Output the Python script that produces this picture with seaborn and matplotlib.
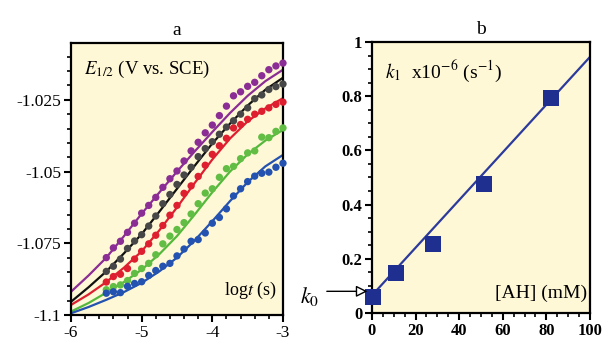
import numpy as np
import pandas as pd
import matplotlib
matplotlib.use("Agg")
import matplotlib.pyplot as plt
from matplotlib.ticker import MultipleLocator
import seaborn as sns

# --- panel a: E1/2 vs log t, five runs (points + fitted curves) ---
log_t = [-5.5, -5.4, -5.3, -5.2, -5.1, -5.0, -4.9, -4.8, -4.7, -4.6, -4.5, -4.4, -4.3,
         -4.2, -4.1, -4.0, -3.9, -3.8, -3.7, -3.6, -3.5, -3.4, -3.3, -3.2, -3.1, -3.0]
e_purple = [-1.0800, -1.0766, -1.0743, -1.0712, -1.0680, -1.0645, -1.0618, -1.0590, -1.0555,
            -1.0525, -1.0498, -1.0463, -1.0428, -1.0398, -1.0365, -1.0338, -1.0305, -1.0272,
            -1.0236, -1.0222, -1.0203, -1.0189, -1.0166, -1.0145, -1.0132, -1.0122]
e_black = [-1.0848, -1.0830, -1.0805, -1.0768, -1.0742, -1.0720, -1.0690, -1.0655, -1.0612,
           -1.0580, -1.0545, -1.0512, -1.0485, -1.0448, -1.0420, -1.0396, -1.0370, -1.0345,
           -1.0323, -1.0300, -1.0278, -1.0246, -1.0233, -1.0214, -1.0204, -1.0195]
e_red = [-1.0885, -1.0866, -1.0858, -1.0838, -1.0805, -1.0778, -1.0752, -1.0722, -1.0688,
         -1.0652, -1.0618, -1.0576, -1.0550, -1.0517, -1.0478, -1.0440, -1.0410, -1.0384,
         -1.0348, -1.0336, -1.0318, -1.0300, -1.0290, -1.0278, -1.0266, -1.0258]
e_green = [-1.0912, -1.0901, -1.0895, -1.0880, -1.0855, -1.0838, -1.0820, -1.0790, -1.0752,
           -1.0725, -1.0702, -1.0678, -1.0648, -1.0612, -1.0575, -1.0560, -1.0520, -1.0490,
           -1.0482, -1.0455, -1.0435, -1.0428, -1.0380, -1.0382, -1.0360, -1.0348]
e_blue = [-1.0924, -1.0919, -1.0922, -1.0900, -1.0890, -1.0884, -1.0862, -1.0845, -1.0830,
          -1.0820, -1.0794, -1.0770, -1.0743, -1.0737, -1.0714, -1.0680, -1.0660, -1.0630,
          -1.0585, -1.0560, -1.0535, -1.0516, -1.0506, -1.0502, -1.0485, -1.0471]

fit_t = [-6.0, -5.75, -5.5, -5.25, -5.0, -4.75, -4.5, -4.25, -4.0, -3.75, -3.5, -3.25, -3.0]
fit_purple = [-1.0919, -1.0862, -1.0800, -1.0725, -1.0647, -1.0573, -1.0500, -1.0430, -1.0362,
              -1.0296, -1.0236, -1.0185, -1.0145]
fit_black = [-1.0954, -1.0903, -1.0848, -1.0785, -1.0718, -1.0640, -1.0560, -1.0480, -1.0402,
             -1.0333, -1.0270, -1.0215, -1.0173]
fit_red = [-1.0965, -1.0928, -1.0885, -1.0835, -1.0778, -1.0705, -1.0625, -1.0540, -1.0458,
           -1.0385, -1.0325, -1.0280, -1.0244]
fit_green = [-1.0988, -1.0958, -1.0922, -1.0885, -1.0842, -1.0788, -1.0725, -1.0650, -1.0572,
             -1.0500, -1.0440, -1.0392, -1.0355]
fit_blue = [-1.0994, -1.0972, -1.0947, -1.0920, -1.0888, -1.0848, -1.0800, -1.0740, -1.0673,
            -1.0603, -1.0537, -1.0482, -1.0442]

runs = ["purple", "black", "red", "green", "blue"]
point_colors = {"purple": "#8a2d94", "black": "#474747", "red": "#dd1f2f",
                "green": "#62bd45", "blue": "#2352b0"}
line_colors = {"purple": "#8a2d94", "black": "#111111", "red": "#dd1f2f",
               "green": "#55b83c", "blue": "#2352b0"}

# --- panel b: k1 vs [AH] ---
ah_mM = [0.5, 11, 28, 51.5, 82]
k1 = [0.06, 0.148, 0.255, 0.477, 0.795]
fit_ah = [0, 100]
fit_k1 = [0.065, 0.945]

a_xticks = [-6, -5, -4, -3]
a_yticks = [-1.1, -1.075, -1.05, -1.025]
b_xticks = [0, 20, 40, 60, 80, 100]
b_yticks = [0, 0.2, 0.4, 0.6, 0.8, 1]

pts = pd.concat([pd.DataFrame({"logt": log_t, "E": e, "run": r})
                 for r, e in zip(runs, [e_purple, e_black, e_red, e_green, e_blue])])
fits = pd.concat([pd.DataFrame({"logt": fit_t, "E": e, "run": r})
                  for r, e in zip(runs, [fit_purple, fit_black, fit_red, fit_green, fit_blue])])

SERIF = "Liberation Serif"
plt.rcParams.update({
    "xtick.direction": "out", "ytick.direction": "out",
    "xtick.major.size": 5, "ytick.major.size": 5,
    "xtick.minor.size": 3, "ytick.minor.size": 3,
    "xtick.major.width": 1.5, "ytick.major.width": 1.5,
    "xtick.minor.width": 1.2, "ytick.minor.width": 1.2,
    "xtick.color": "black", "ytick.color": "black",
    "axes.linewidth": 1.6, "axes.edgecolor": "black",
})
txt = dict(fontfamily=SERIF, math_fontfamily="stix", color="black")

bg = "#fff8d6"
fig, (ax1, ax2) = plt.subplots(1, 2, figsize=(6.03, 3.48), dpi=100)
fig.subplots_adjust(left=0.1177, right=0.9784, bottom=0.0948, top=0.8764, wspace=0.0)
ax1.set_position([0.1177, 0.0948, 0.3516, 0.7816])
ax2.set_position([0.6169, 0.1006, 0.3615, 0.7787])

# panel a
sns.lineplot(data=fits, x="logt", y="E", hue="run", palette=line_colors, hue_order=runs,
             linewidth=1.6, legend=False, ax=ax1)
sns.scatterplot(data=pts, x="logt", y="E", hue="run", palette=point_colors, hue_order=runs,
                s=28, linewidth=0, legend=False, ax=ax1, clip_on=False, zorder=3)
ax1.set_xlim(-6, -3)
ax1.set_ylim(-1.1, -1.0052)
ax1.set_xlabel("")
ax1.set_ylabel("")
ax1.set_title("a", fontsize=14, pad=6, fontfamily=SERIF)
ax1.text(0.06, 0.94, r"$E_{1/2}$ (V vs. SCE)", transform=ax1.transAxes, fontsize=13.5,
         ha="left", va="top", **txt)
ax1.text(0.97, 0.05, r"log$t$ (s)", transform=ax1.transAxes, fontsize=13,
         ha="right", va="bottom", **txt)

# panel b
sns.lineplot(x=fit_ah, y=fit_k1, color="#2b3a9c", linewidth=1.6, ax=ax2)
sns.scatterplot(x=ah_mM, y=k1, marker="s", s=120, color="#1f2f8f", linewidth=0,
                ax=ax2, clip_on=False, zorder=3)
ax2.set_xlim(0, 100)
ax2.set_ylim(0, 1)
ax2.set_xlabel("")
ax2.set_ylabel("")
ax2.set_title("b", fontsize=14, pad=6, fontfamily=SERIF)
ax2.text(0.06, 0.94, r"$k_1$  x10$^{-6}$ (s$^{-1}$)", transform=ax2.transAxes, fontsize=14,
         ha="left", va="top", **txt)
ax2.text(0.985, 0.04, "[AH] (mM)", transform=ax2.transAxes, fontsize=14,
         ha="right", va="bottom", **txt)
ax2.annotate("", xy=(-0.8, 0.08), xytext=(-22, 0.08), xycoords="data",
             arrowprops=dict(arrowstyle="-|>", color="black", lw=1.0, fc="white",
                             mutation_scale=17), annotation_clip=False)
ax2.text(-33, 0.06, r"$k_0$", fontsize=16, ha="left", va="center", clip_on=False, **txt)

ax1.set_xticks(a_xticks)
ax1.set_xticklabels([f"{v:g}" for v in a_xticks], fontfamily=SERIF, fontsize=12.5, color="black")
ax1.set_yticks(a_yticks)
ax1.set_yticklabels([f"{v:g}" for v in a_yticks], fontfamily=SERIF, fontsize=12.5, color="black")
ax1.xaxis.set_minor_locator(MultipleLocator(0.2))
ax1.yaxis.set_minor_locator(MultipleLocator(0.005))

ax2.set_xticks(b_xticks)
ax2.set_xticklabels([f"{v:g}" for v in b_xticks], fontfamily=SERIF, fontsize=12,
                    fontweight="bold", color="black")
ax2.set_yticks(b_yticks)
ax2.set_yticklabels([f"{v:g}" for v in b_yticks], fontfamily=SERIF, fontsize=12,
                    fontweight="bold", color="black")
ax2.xaxis.set_minor_locator(MultipleLocator(5))
ax2.yaxis.set_minor_locator(MultipleLocator(0.05))

for ax in (ax1, ax2):
    ax.set_facecolor(bg)
    ax.tick_params(which="both", top=False, right=False, pad=2)

fig.savefig("out.png", dpi=100)
